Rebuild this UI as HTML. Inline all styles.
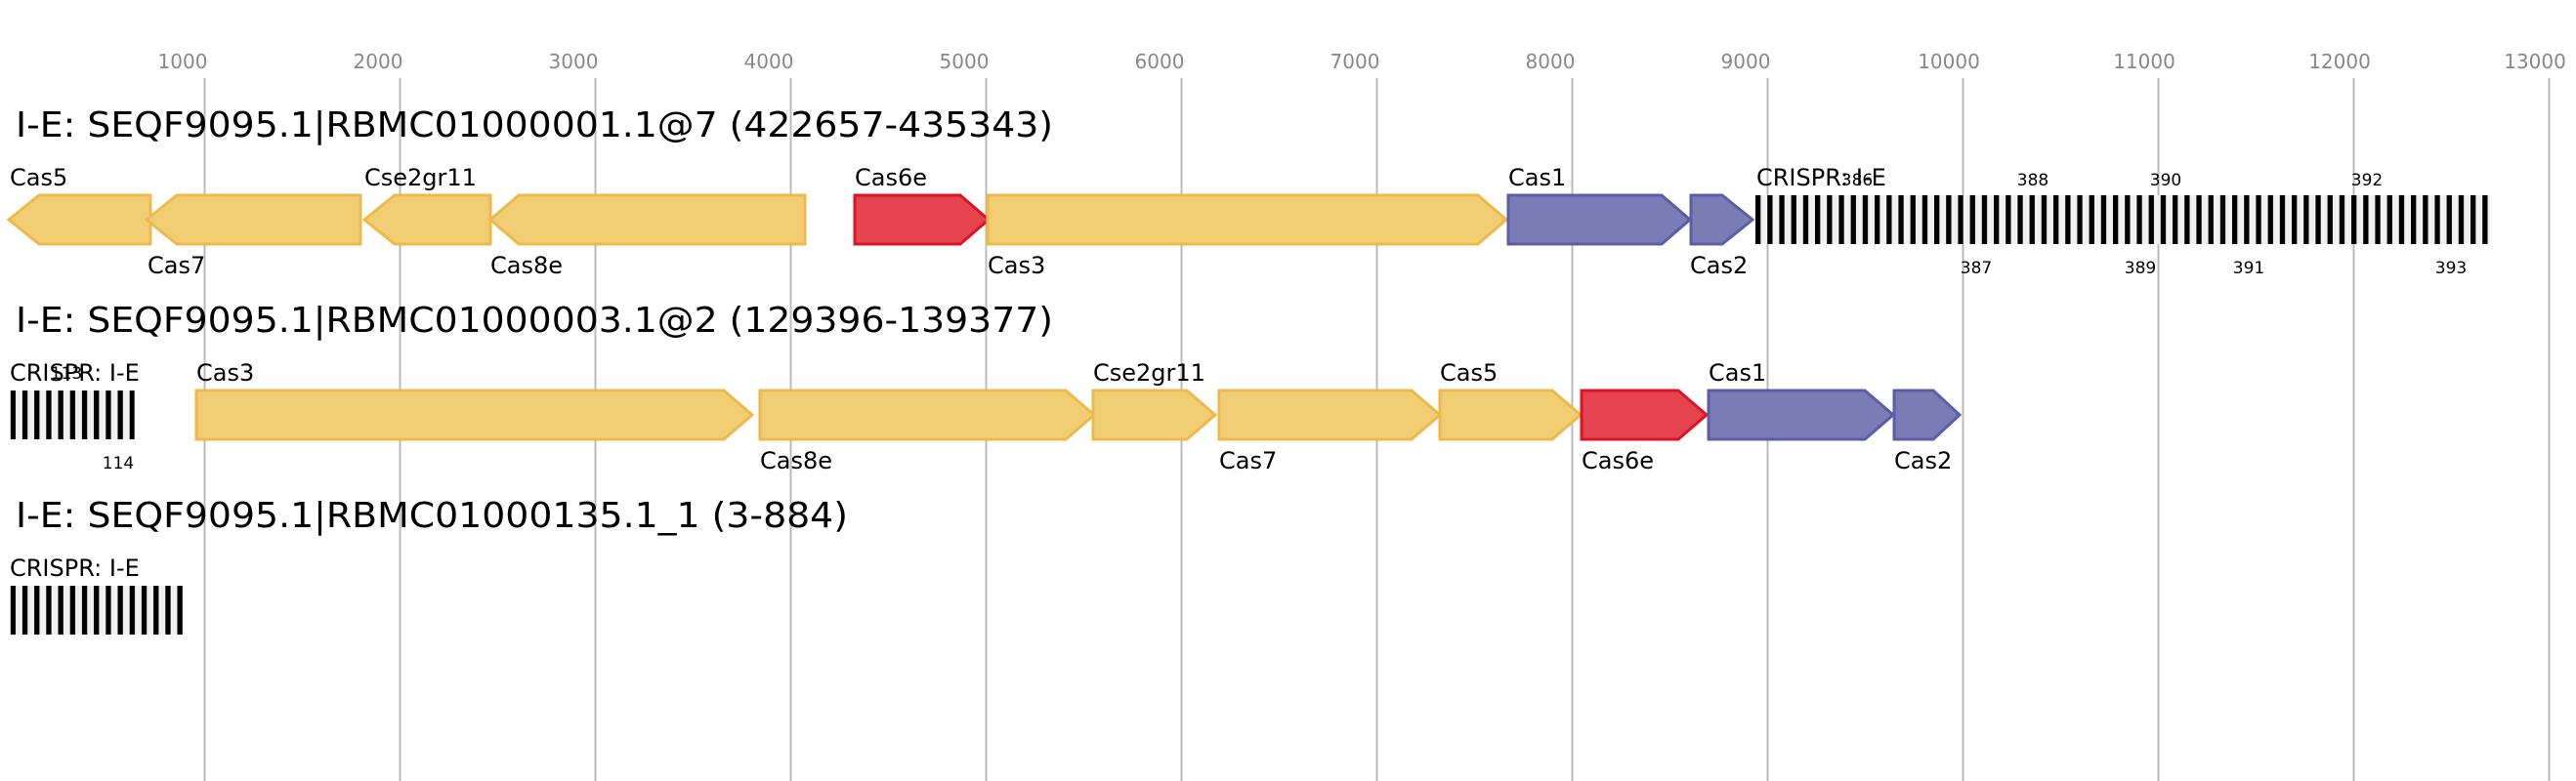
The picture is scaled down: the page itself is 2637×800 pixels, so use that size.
<!DOCTYPE html>
<html><head><meta charset="utf-8"><style>
html,body{margin:0;padding:0;background:#fff;}
svg{display:block;}
text{font-family:"DejaVu Sans","Liberation Sans",sans-serif;}
</style></head><body>
<svg width="2637" height="800" viewBox="0 0 2637 800" xmlns="http://www.w3.org/2000/svg">
<defs>
<pattern id="p1" patternUnits="userSpaceOnUse" x="1797" y="0" width="12.2" height="800"><rect x="0" y="0" width="12.2" height="800" fill="#f0f0f0"/><rect x="0" y="0" width="5.3" height="800" fill="#000"/></pattern>
<pattern id="p2" patternUnits="userSpaceOnUse" x="10.7" y="0" width="12.2" height="800"><rect x="0" y="0" width="12.2" height="800" fill="#f0f0f0"/><rect x="0" y="0" width="5.3" height="800" fill="#000"/></pattern>
</defs>
<g stroke="#bbb" stroke-width="2">
<line x1="209.5" y1="80" x2="209.5" y2="800"/><line x1="409.5" y1="80" x2="409.5" y2="800"/><line x1="609.5" y1="80" x2="609.5" y2="800"/><line x1="809.5" y1="80" x2="809.5" y2="800"/><line x1="1009.5" y1="80" x2="1009.5" y2="800"/><line x1="1209.5" y1="80" x2="1209.5" y2="800"/><line x1="1409.5" y1="80" x2="1409.5" y2="800"/><line x1="1609.5" y1="80" x2="1609.5" y2="800"/><line x1="1809.5" y1="80" x2="1809.5" y2="800"/><line x1="2009.5" y1="80" x2="2009.5" y2="800"/><line x1="2209.5" y1="80" x2="2209.5" y2="800"/><line x1="2409.5" y1="80" x2="2409.5" y2="800"/><line x1="2609.5" y1="80" x2="2609.5" y2="800"/>
</g>
<g fill="#888" font-size="20" text-anchor="middle">
<text x="187" y="70">1000</text><text x="387" y="70">2000</text><text x="587" y="70">3000</text><text x="787" y="70">4000</text><text x="987" y="70">5000</text><text x="1187" y="70">6000</text><text x="1387" y="70">7000</text><text x="1587" y="70">8000</text><text x="1787" y="70">9000</text><text x="1995" y="70">10000</text><text x="2195" y="70">11000</text><text x="2395" y="70">12000</text><text x="2595" y="70">13000</text>
</g>
<g fill="#000" font-size="36">
<text x="16" y="140" textLength="1062" lengthAdjust="spacingAndGlyphs">I-E: SEQF9095.1|RBMC01000001.1@7 (422657-435343)</text>
<text x="16" y="340" textLength="1062" lengthAdjust="spacingAndGlyphs">I-E: SEQF9095.1|RBMC01000003.1@2 (129396-139377)</text>
<text x="16" y="540" textLength="852" lengthAdjust="spacingAndGlyphs">I-E: SEQF9095.1|RBMC01000135.1_1 (3-884)</text>
</g>
<g stroke-width="3">
<!-- row 1 -->
<polygon points="9,225 40,200 154,200 154,250 40,250" fill="#f1cd74" stroke="#edb94a"/>
<polygon points="150,225 181,200 369,200 369,250 181,250" fill="#f1cd74" stroke="#edb94a"/>
<polygon points="373,225 404,200 502,200 502,250 404,250" fill="#f1cd74" stroke="#edb94a"/>
<polygon points="502,225 531,200 824,200 824,250 531,250" fill="#f1cd74" stroke="#edb94a"/>
<polygon points="875,200 983,200 1012,225 983,250 875,250" fill="#e5434f" stroke="#dc1524"/>
<polygon points="1011,200 1513,200 1542,225 1513,250 1011,250" fill="#f1cd74" stroke="#edb94a"/>
<polygon points="1544,200 1701,200 1730,225 1701,250 1544,250" fill="#7a7db5" stroke="#5b5ea6"/>
<polygon points="1731,200 1763,200 1794,225 1763,250 1731,250" fill="#7a7db5" stroke="#5b5ea6"/>
<!-- row 2 -->
<polygon points="201,400 741,400 770,425 741,450 201,450" fill="#f1cd74" stroke="#edb94a"/>
<polygon points="778,400 1091,400 1120,425 1091,450 778,450" fill="#f1cd74" stroke="#edb94a"/>
<polygon points="1119,400 1215,400 1244,425 1215,450 1119,450" fill="#f1cd74" stroke="#edb94a"/>
<polygon points="1248,400 1445,400 1474,425 1445,450 1248,450" fill="#f1cd74" stroke="#edb94a"/>
<polygon points="1474,400 1589,400 1618,425 1589,450 1474,450" fill="#f1cd74" stroke="#edb94a"/>
<polygon points="1619,400 1718,400 1747,425 1718,450 1619,450" fill="#e5434f" stroke="#dc1524"/>
<polygon points="1749,400 1909,400 1938,425 1909,450 1749,450" fill="#7a7db5" stroke="#5b5ea6"/>
<polygon points="1939,400 1979,400 2006,425 1979,450 1939,450" fill="#7a7db5" stroke="#5b5ea6"/>
</g>
<rect x="1797" y="200" width="752" height="50" fill="url(#p1)"/>
<rect x="10.7" y="400" width="127" height="50" fill="url(#p2)"/>
<rect x="10.7" y="600" width="176.5" height="50" fill="url(#p2)"/>
<g fill="#000" font-size="24">
<text x="10" y="190">Cas5</text><text x="151" y="280">Cas7</text><text x="373" y="190">Cse2gr11</text><text x="502" y="280">Cas8e</text><text x="875" y="190">Cas6e</text><text x="1011" y="280">Cas3</text><text x="1544" y="190">Cas1</text><text x="1730" y="280">Cas2</text><text x="1798" y="190">CRISPR: I-E</text>
<text x="10" y="390">CRISPR: I-E</text><text x="201" y="390">Cas3</text><text x="778" y="480">Cas8e</text><text x="1119" y="390">Cse2gr11</text><text x="1248" y="480">Cas7</text><text x="1474" y="390">Cas5</text><text x="1619" y="480">Cas6e</text><text x="1749" y="390">Cas1</text><text x="1939" y="480">Cas2</text>
<text x="10" y="590">CRISPR: I-E</text>
</g>
<g fill="#000" font-size="17" text-anchor="middle">
<text x="1901" y="190">386</text><text x="2081" y="190">388</text><text x="2217" y="190">390</text><text x="2423" y="190">392</text>
<text x="2023" y="280">387</text><text x="2191" y="280">389</text><text x="2302" y="280">391</text><text x="2509" y="280">393</text>
<text x="68" y="388">113</text><text x="121" y="480">114</text>
</g>
</svg>
</body></html>
